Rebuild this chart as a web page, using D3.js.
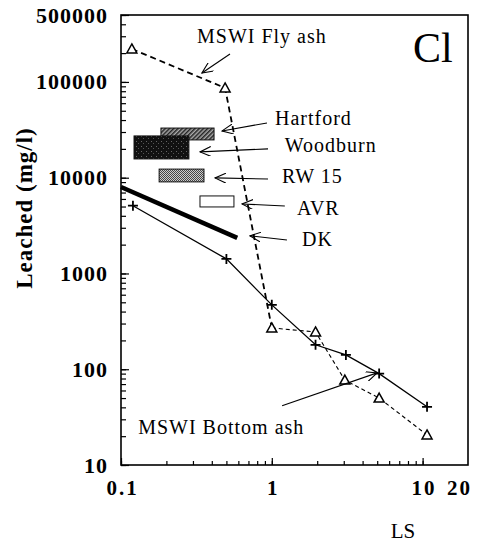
<!DOCTYPE html>
<html>
<head>
<meta charset="utf-8">
<script src="https://cdn.jsdelivr.net/npm/d3@7/dist/d3.min.js"></script>
<style>
  body { margin: 0; background: #fff; }
  svg text { font-family: "Liberation Serif", "Times New Roman", Times, "DejaVu Serif", serif !important; fill: #000; }
</style>
</head>
<body>
<div id="chart"></div>
<script>
// MSWI fly ash (dashed, triangles)
var flyLS = [0.118, 0.49, 1.0, 1.95, 3.05, 5.15, 10.7];
var flyCl = [221000, 86500, 270, 245, 77, 50, 20.6];

// MSWI bottom ash (solid, crosses)
var botLS = [0.12, 0.5, 1.0, 1.95, 3.1, 5.15, 10.7];
var botCl = [5100, 1420, 470, 180, 141, 90, 40.5];

// DK (thick line)
var dkLS = [0.1, 0.59];
var dkCl = [8000, 2350];

// ranges for the other ashes
var boxNames = ["Hartford", "Woodburn", "RW 15", "AVR"];
var boxLS0 = [0.184, 0.122, 0.179, 0.334];
var boxLS1 = [0.414, 0.282, 0.355, 0.561];
var boxClHi = [33000, 27300, 12300, 6450];
var boxClLo = [24800, 15700, 9040, 4950];

var xTickLabels = [0.1, 1, 10, 20];
var yTickLabels = [10, 100, 1000, 10000, 100000, 500000];

// annotations, in data units
var noteText = ["MSWI Fly ash", "Hartford", "Woodburn", "RW 15", "AVR", "DK", "MSWI Bottom ash"];
var noteLS = [0.319, 1.05, 1.22, 1.17, 1.47, 1.585, 0.130];
var noteCl = [255000, 35600, 18600, 8810, 4080, 1940, 21.1];
var arrowFromLS = [0.528, 0.929, 0.944, 0.944, 1.22, 1.26, 1.17];
var arrowFromCl = [196000, 37300, 20000, 9700, 5070, 2240, 41.5];
var arrowToLS = [0.344, 0.468, 0.334, 0.420, 0.634, 0.716, 4.99];
var arrowToCl = [124000, 30800, 18600, 9950, 5320, 2470, 91.6];

var width = 484, height = 544;
var margin = {top: 15, right: 16, bottom: 79, left: 121};
var serif = '"Liberation Serif", "Times New Roman", Times, "DejaVu Serif", serif';

var svg = d3.select("#chart").append("svg")
    .attr("width", width)
    .attr("height", height)
    .attr("font-family", serif);

var x = d3.scaleLog()
    .domain([0.1, 20])
    .range([margin.left, width - margin.right]);
var y = d3.scaleLog()
    .domain([10, 500000])
    .range([height - margin.bottom, margin.top]);

var defs = svg.append("defs");

defs.append("marker")
    .attr("id", "arr")
    .attr("viewBox", "0 0 12 10")
    .attr("refX", 11).attr("refY", 5)
    .attr("markerWidth", 12).attr("markerHeight", 10)
    .attr("markerUnits", "userSpaceOnUse")
    .attr("orient", "auto")
  .append("path")
    .attr("d", "M0,0 L11,5 L0,10")
    .attr("fill", "none")
    .attr("stroke", "#000")
    .attr("stroke-width", 1.1);

// hatch for Hartford
var p1 = defs.append("pattern").attr("id", "hatch")
    .attr("patternUnits", "userSpaceOnUse")
    .attr("width", 3).attr("height", 3)
    .attr("patternTransform", "rotate(45)");
p1.append("rect").attr("width", 3).attr("height", 3).attr("fill", "#aaa");
p1.append("rect").attr("width", 1.5).attr("height", 3).attr("fill", "#222");

// dark stipple for Woodburn
var p2 = defs.append("pattern").attr("id", "dark")
    .attr("patternUnits", "userSpaceOnUse")
    .attr("width", 5).attr("height", 5);
p2.append("rect").attr("width", 5).attr("height", 5).attr("fill", "#111");
p2.append("rect").attr("x", 1).attr("y", 1).attr("width", 1).attr("height", 1).attr("fill", "#666");
p2.append("rect").attr("x", 3).attr("y", 3).attr("width", 1).attr("height", 1).attr("fill", "#555");

// fine grey texture for RW 15
var p3 = defs.append("pattern").attr("id", "grey")
    .attr("patternUnits", "userSpaceOnUse")
    .attr("width", 2).attr("height", 2);
p3.append("rect").attr("width", 2).attr("height", 2).attr("fill", "#ccc");
p3.append("rect").attr("width", 1).attr("height", 1).attr("fill", "#444");
p3.append("rect").attr("x", 1).attr("y", 1).attr("width", 1).attr("height", 1).attr("fill", "#444");

var boxFill = ["url(#hatch)", "url(#dark)", "url(#grey)", "#fff"];

// axes: minor ticks, then labelled ones
var x0 = height - margin.bottom;
svg.append("g")
    .attr("transform", "translate(0," + x0 + ")")
    .call(d3.axisBottom(x).tickValues(x.ticks().filter(function(v) { return v <= 10; }))
        .tickSize(-4).tickFormat(""))
    .call(function(g) { g.select(".domain").remove(); });
var xa = svg.append("g")
    .attr("transform", "translate(0," + x0 + ")")
    .call(d3.axisBottom(x).tickValues(xTickLabels)
        .tickSize(-7).tickPadding(15).tickFormat(d3.format("")))
    .call(function(g) { g.select(".domain").remove(); });
xa.attr("font-family", serif);
xa.selectAll("text")
    .style("font-size", "21px").style("font-weight", "bold")
    .style("letter-spacing", "2px")
    .attr("dx", function(d) { return d == 20 ? -9 : 1; });
xa.selectAll("line").filter(function(d) { return d == 20; }).remove();

svg.append("g")
    .attr("transform", "translate(" + margin.left + ",0)")
    .call(d3.axisLeft(y).tickValues(y.ticks()).tickSize(-5).tickFormat(""))
    .call(function(g) { g.select(".domain").remove(); });
var ya = svg.append("g")
    .attr("transform", "translate(" + margin.left + ",0)")
    .call(d3.axisLeft(y).tickValues(yTickLabels).tickSize(-8).tickPadding(13)
        .tickFormat(d3.format("d")))
    .call(function(g) { g.select(".domain").remove(); });
ya.attr("font-family", serif);
ya.selectAll("text")
    .style("font-size", "22px").style("font-weight", "bold")
    .style("letter-spacing", "1px");
svg.selectAll(".tick line").attr("stroke", "#000").attr("stroke-width", 1.2);

// frame
svg.append("rect")
    .attr("x", x(0.1)).attr("y", y(500000))
    .attr("width", x(20) - x(0.1)).attr("height", y(10) - y(500000))
    .attr("fill", "none").attr("stroke", "#000").attr("stroke-width", 1.6);

// boxes
boxNames.forEach(function(n, i) {
  svg.append("rect")
      .attr("x", x(boxLS0[i])).attr("y", y(boxClHi[i]))
      .attr("width", x(boxLS1[i]) - x(boxLS0[i]))
      .attr("height", y(boxClLo[i]) - y(boxClHi[i]))
      .attr("fill", boxFill[i])
      .attr("stroke", "#111").attr("stroke-width", 1);
});

var line = d3.line()
    .x(function(d) { return x(d[0]); })
    .y(function(d) { return y(d[1]); });

var fly = d3.zip(flyLS, flyCl);
var bot = d3.zip(botLS, botCl);

// fly ash: heavy dashes down to LS 1, finer after
svg.append("path").datum(fly.slice(0, 3))
    .attr("d", line).attr("fill", "none")
    .attr("stroke", "#000").attr("stroke-width", 1.8)
    .attr("stroke-dasharray", "6,4");
svg.append("path").datum(fly.slice(2))
    .attr("d", line).attr("fill", "none")
    .attr("stroke", "#000").attr("stroke-width", 1.1)
    .attr("stroke-dasharray", "4,3");

svg.append("path").datum(bot)
    .attr("d", line).attr("fill", "none")
    .attr("stroke", "#000").attr("stroke-width", 1.3);

svg.append("path").datum(d3.zip(dkLS, dkCl))
    .attr("d", line).attr("fill", "none")
    .attr("stroke", "#000").attr("stroke-width", 4.5);

svg.selectAll(".tri").data(fly).enter().append("path")
    .attr("transform", function(d) { return "translate(" + x(d[0]) + "," + y(d[1]) + ")"; })
    .attr("d", "M0,-5 L5,4 L-5,4 Z")
    .attr("fill", "#fff").attr("stroke", "#000").attr("stroke-width", 1.5);

svg.selectAll(".cross").data(bot).enter().append("path")
    .attr("transform", function(d) { return "translate(" + x(d[0]) + "," + y(d[1]) + ")"; })
    .attr("d", "M-5,0 H5 M0,-5 V5")
    .attr("stroke", "#000").attr("stroke-width", 1.8);

// arrows and labels
noteText.forEach(function(t, i) {
  svg.append("line")
      .attr("x1", x(arrowFromLS[i])).attr("y1", y(arrowFromCl[i]))
      .attr("x2", x(arrowToLS[i])).attr("y2", y(arrowToCl[i]))
      .attr("stroke", "#000").attr("stroke-width", 1.1)
      .attr("marker-end", "url(#arr)");
  svg.append("text")
      .attr("x", x(noteLS[i])).attr("y", y(noteCl[i]))
      .style("font-size", "20px").style("letter-spacing", "1px")
      .text(t);
});

svg.append("text")
    .attr("x", x(8.63)).attr("y", y(161000))
    .style("font-size", "42px")
    .text("Cl");

svg.append("text")
    .attr("transform", "translate(32,208) rotate(-90)")
    .attr("text-anchor", "middle")
    .style("font-size", "23px").style("font-weight", "bold")
    .style("letter-spacing", "1px")
    .text("Leached (mg/l)");

svg.append("text")
    .attr("x", 403).attr("y", 538)
    .attr("text-anchor", "middle")
    .style("font-size", "21px")
    .text("LS");
</script>
</body>
</html>
